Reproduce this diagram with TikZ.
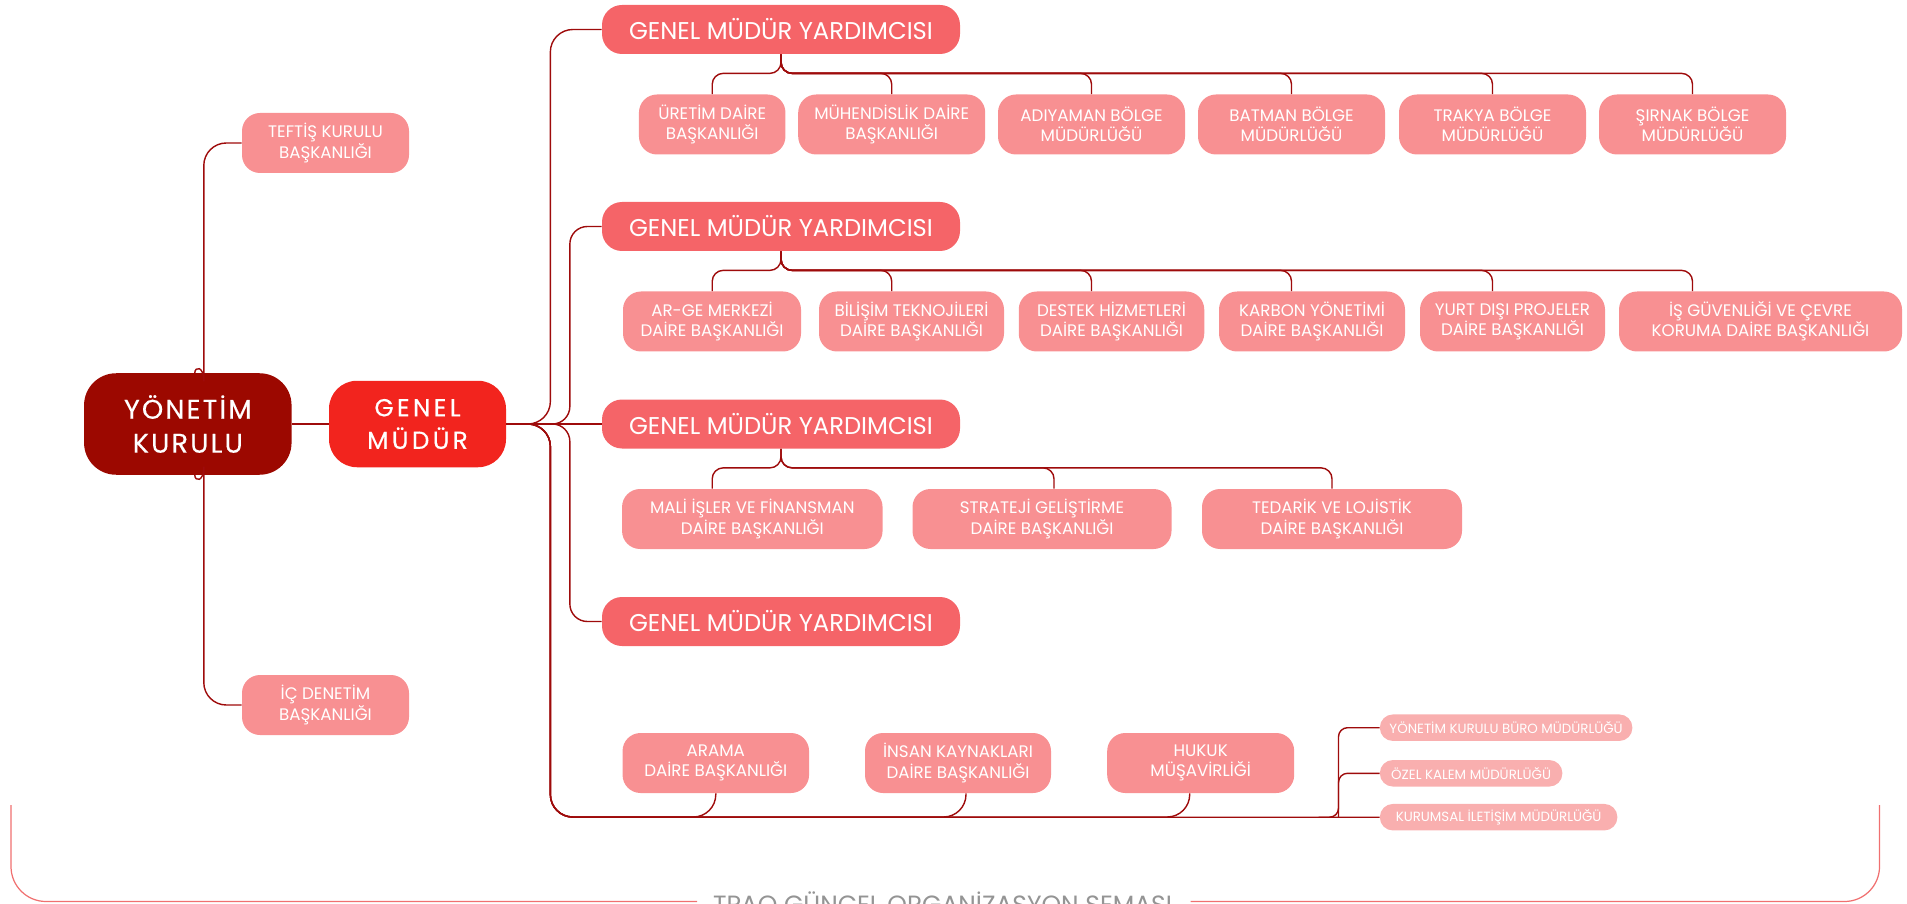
\documentclass[tikz,border=0pt]{standalone}
\usepackage{fontspec}
\setmainfont{Poppins}
\usepackage{xcolor}
\usepackage{tikz}

\definecolor{boardred}{HTML}{9C0800}
\definecolor{gmred}{HTML}{F2241E}
\definecolor{deputyred}{HTML}{F56468}
\definecolor{unitpink}{HTML}{F89092}
\definecolor{officepink}{HTML}{F9AFAF}
\definecolor{linkred}{HTML}{9E0B0B}
\definecolor{framered}{HTML}{F07070}

\begin{document}
\begin{tikzpicture}[
  topbox/.style={text=white, align=center, inner sep=0pt},
  deputy/.style={fill=deputyred, rounded corners=0.4cm, text=white, inner sep=0pt,
    minimum width=7.16cm, minimum height=0.98cm, font=\fontsize{13.8}{16}\selectfont},
  unit/.style={fill=unitpink, rounded corners=0.36cm, text=white, align=center, inner sep=0pt,
    minimum width=#1cm, minimum height=1.2cm, font=\fontsize{9.5}{11.5}\selectfont},
  unit/.default=3.74,
  office/.style={fill=officepink, rounded corners=0.26cm, text=white, anchor=west, inner sep=0pt,
    minimum width=#1cm, minimum height=0.53cm, font=\fontsize{7.6}{8}\selectfont},
  link/.style={draw=linkred, line width=0.8pt, rounded corners=0.22cm}]

  \useasboundingbox (0,0) rectangle (38.14,18.06);
  \clip (0,0) rectangle (38.14,18.06);

  \node[topbox, fill=boardred, rounded corners=0.64cm, minimum width=4.15cm, minimum height=2.03cm,
    font=\fontsize{15.4}{19.3}\selectfont\addfontfeature{LetterSpace=8,FakeBold=0.4}] (yk) at (3.756,9.58) {YÖNETİM\\KURULU};
  \node[topbox, fill=gmred, rounded corners=0.56cm, minimum width=3.54cm, minimum height=1.73cm,
    font=\fontsize{14}{18.5}\selectfont\addfontfeature{LetterSpace=14,FakeBold=0.4}] (gm) at (8.35,9.58) {GENEL\\MÜDÜR};

  \node[unit=3.34] (teftis) at (6.51,15.2) {TEFTİŞ KURULU\\BAŞKANLIĞI};
  \node[unit=3.34] (icdenetim) at (6.51,3.96) {İÇ DENETİM\\BAŞKANLIĞI};

  \node[deputy] (gmy1) at (15.62,17.47) {GENEL MÜDÜR YARDIMCISI};
  \node[deputy] (gmy2) at (15.62,13.53) {GENEL MÜDÜR YARDIMCISI};
  \node[deputy] (gmy3) at (15.62,9.58) {GENEL MÜDÜR YARDIMCISI};
  \node[deputy] (gmy4) at (15.62,5.63) {GENEL MÜDÜR YARDIMCISI};

  \node[unit=2.93] (uretim) at (14.244,15.57) {ÜRETİM DAİRE\\BAŞKANLIĞI};
  \node[unit] (muhendislik) at (17.834,15.57) {MÜHENDİSLİK DAİRE\\BAŞKANLIĞI};
  \node[unit] (adiyaman) at (21.83,15.57) {ADIYAMAN BÖLGE\\MÜDÜRLÜĞÜ};
  \node[unit] (batman) at (25.83,15.57) {BATMAN BÖLGE\\MÜDÜRLÜĞÜ};
  \node[unit] (trakya) at (29.85,15.57) {TRAKYA BÖLGE\\MÜDÜRLÜĞÜ};
  \node[unit] (sirnak) at (33.85,15.57) {ŞIRNAK BÖLGE\\MÜDÜRLÜĞÜ};

  \node[unit=3.56] (arge) at (14.24,11.63) {AR-GE MERKEZİ\\DAİRE BAŞKANLIĞI};
  \node[unit=3.70] (bilisim) at (18.23,11.63) {BİLİŞİM TEKNOJİLERİ\\DAİRE BAŞKANLIĞI};
  \node[unit=3.71] (destek) at (22.23,11.63) {DESTEK HİZMETLERİ\\DAİRE BAŞKANLIĞI};
  \node[unit=3.72] (karbon) at (26.24,11.63) {KARBON YÖNETİMİ\\DAİRE BAŞKANLIĞI};
  \node[unit=3.70] (yurtdisi) at (30.25,11.63) {YURT DIŞI PROJELER\\DAİRE BAŞKANLIĞI};
  \node[unit=5.66] (isguvenligi) at (35.21,11.63) {İŞ GÜVENLİĞİ VE ÇEVRE\\KORUMA DAİRE BAŞKANLIĞI};

  \node[unit=5.21] (mali) at (15.046,7.68) {MALİ İŞLER VE FİNANSMAN\\DAİRE BAŞKANLIĞI};
  \node[unit=5.18] (strateji) at (20.84,7.68) {STRATEJİ GELİŞTİRME\\DAİRE BAŞKANLIĞI};
  \node[unit=5.20] (tedarik) at (26.64,7.68) {TEDARİK VE LOJİSTİK\\DAİRE BAŞKANLIĞI};

  \node[unit=3.73] (arama) at (14.316,2.8) {ARAMA\\DAİRE BAŞKANLIĞI};
  \node[unit=3.72] (insan) at (19.16,2.8) {İNSAN KAYNAKLARI\\DAİRE BAŞKANLIĞI};
  \node[unit] (hukuk) at (24.014,2.8) {HUKUK\\MÜŞAVİRLİĞİ};

  \node[office=5.05] (ykbm) at (27.59,3.506) {YÖNETİM KURULU BÜRO MÜDÜRLÜĞÜ};
  \node[office=3.65] (ozel) at (27.59,2.594) {ÖZEL KALEM MÜDÜRLÜĞÜ};
  \node[office=4.75] (kurumsal) at (27.59,1.716) {KURUMSAL İLETİŞİM MÜDÜRLÜĞÜ};
  \coordinate (busend) at (26.77,1.716);

  \draw[link] (yk.east) -- (gm.west);
  \draw[link, rounded corners=0.45cm] ([xshift=0.14cm]yk.north) to[out=90,in=-90] ++(0.18,0.28) |- (teftis.west);
  \draw[link, rounded corners=0.45cm] ([xshift=0.14cm]yk.south) to[out=-90,in=90] ++(0.18,-0.28) |- (icdenetim.west);

  \draw[link, rounded corners=0.45cm] (gm.east) -- ++(0.88,0) |- (gmy1.west);
  \draw[link, rounded corners=0.35cm] (gm.east) -- ++(1.27,0) |- (gmy2.west);
  \draw[link] (gm.east) -- (gmy3.west);
  \draw[link, rounded corners=0.35cm] (gm.east) -- ++(1.27,0) |- (gmy4.west);

  \foreach \child in {uretim,muhendislik,adiyaman,batman,trakya,sirnak}
    \draw[link] (gmy1.south) -- ++(0,-0.38) -| (\child.north);
  \draw[link] (gmy2.south) -- ++(0,-0.38) -| (uretim |- arge.north);
  \draw[link] (gmy2.south) -- ++(0,-0.38) -| (muhendislik |- bilisim.north);
  \draw[link] (gmy2.south) -- ++(0,-0.38) -| (adiyaman |- destek.north);
  \draw[link] (gmy2.south) -- ++(0,-0.38) -| (batman |- karbon.north);
  \draw[link] (gmy2.south) -- ++(0,-0.38) -| (trakya |- yurtdisi.north);
  \draw[link] (gmy2.south) -- ++(0,-0.38) -| (sirnak |- isguvenligi.north);
  \draw[link] (gmy3.south) -- ++(0,-0.38) -| (uretim |- mali.north);
  \draw[link] (gmy3.south) -- ++(0,-0.38) -| ([xshift=0.24cm]strateji.north);
  \draw[link] (gmy3.south) -- ++(0,-0.38) -| (tedarik.north);

  \draw[link, rounded corners=0.45cm] (gm.east) -- ++(0.88,0) |- (kurumsal.west);
  \draw[link, rounded corners=0.45cm] (gm.east) -- ++(0.88,0) -- ++(0,-7.86) -| (arama.south);
  \draw[link, rounded corners=0.45cm] (gm.east) -- ++(0.88,0) -- ++(0,-7.86) -| ([xshift=0.16cm]insan.south);
  \draw[link, rounded corners=0.45cm] (gm.east) -- ++(0.88,0) -- ++(0,-7.86) -| ([xshift=-0.22cm]hukuk.south);
  \draw[link, rounded corners=0.18cm] ([xshift=-0.4cm]busend) -| (busend |- ykbm.west) -- (ykbm.west);
  \draw[link, rounded corners=0.18cm] (busend) |- (ozel.west);

  \draw[framered, line width=0.7pt, rounded corners=0.7cm] (0.22,1.96) -- (0.22,0.03) -- (13.94,0.03);
  \draw[framered, line width=0.7pt, rounded corners=0.7cm] (23.81,0.03) -- (37.59,0.03) -- (37.59,1.96);
  \node[anchor=base, text=black!42, font=\fontsize{14.2}{16}\selectfont] (caption) at (18.85,-0.21) {TPAO GÜNCEL ORGANİZASYON ŞEMASI};
\end{tikzpicture}
\end{document}
